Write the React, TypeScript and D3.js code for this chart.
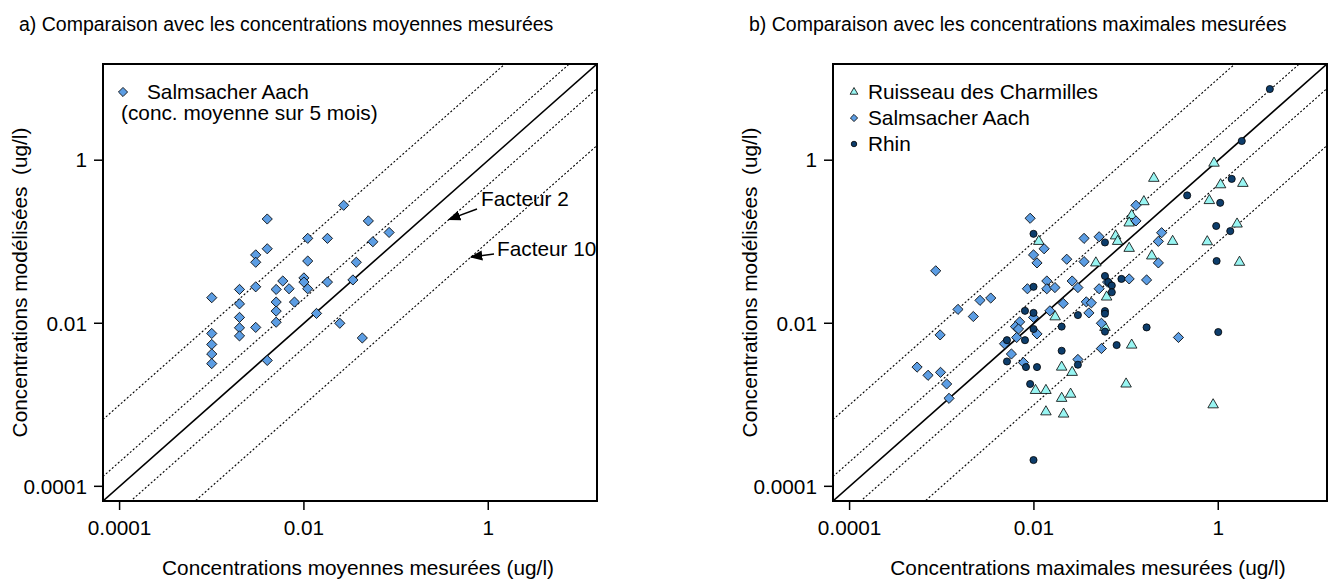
import React from 'react'
import * as d3 from 'd3'

type Pt = [number, number]

const W = 1339
const H = 581
const FONT = '"Liberation Sans", Arial, sans-serif'
const FS = 20.8

// same log range on both axes
const domain: [number, number] = [Math.pow(10, -4.18), Math.pow(10, 1.18)]
const tickValues = [0.0001, 0.01, 1]
const tickLabels = ['0.0001', '0.01', '1']
const factors = [1, 2, 0.5, 10, 0.1]

const titles = [
  'a) Comparaison avec les concentrations moyennes mesurées',
  'b) Comparaison avec les concentrations maximales mesurées',
]
const xLabels = [
  'Concentrations moyennes mesurées (ug/l)',
  'Concentrations maximales mesurées (ug/l)',
]
const yLabel = 'Concentrations modélisées\u00a0\u00a0(ug/l)'

// panel a: Salmsacher Aach, mean over 5 months
const salmsacherMoy: Pt[] = [
  [0.027, 0.28], [0.004, 0.19], [0.05, 0.18], [0.011, 0.11], [0.018, 0.11],
  [0.084, 0.13], [0.056, 0.1], [0.004, 0.082], [0.003, 0.069], [0.003, 0.056],
  [0.011, 0.058], [0.037, 0.056], [0.0059, 0.033], [0.01, 0.036], [0.01, 0.032],
  [0.018, 0.032], [0.034, 0.034], [0.002, 0.026], [0.003, 0.028], [0.005, 0.026],
  [0.0069, 0.0265], [0.011, 0.0265], [0.001, 0.0206], [0.002, 0.0173], [0.005, 0.0182],
  [0.0079, 0.0182], [0.005, 0.0141], [0.0137, 0.0132], [0.002, 0.0118], [0.005, 0.0103],
  [0.0245, 0.01], [0.002, 0.0088], [0.003, 0.0089], [0.001, 0.0075], [0.002, 0.007],
  [0.043, 0.0066], [0.001, 0.0055], [0.001, 0.0042], [0.001, 0.0032], [0.004, 0.0035],
]

// panel b: maxima
const ruisseauMax: Pt[] = [
  [0.0113, 0.101], [0.2, 0.6], [0.156, 0.31], [0.115, 0.21], [0.108, 0.17],
  [0.077, 0.118], [0.081, 0.101], [0.108, 0.083], [0.32, 0.101], [0.19, 0.067],
  [0.047, 0.055], [0.0615, 0.021], [0.017, 0.012], [0.059, 0.0089], [0.115, 0.0054],
  [0.02, 0.0029], [0.026, 0.0025], [0.1, 0.0018], [0.0104, 0.0015], [0.0135, 0.0015],
  [0.025, 0.00135], [0.02, 0.0012], [0.0135, 0.00082], [0.021, 0.00077],
  [0.9, 0.92], [1.06, 0.5], [1.85, 0.52], [0.8, 0.32], [1.6, 0.165],
  [0.76, 0.1], [1.7, 0.056], [0.88, 0.001],
]
const salmsacherMax: Pt[] = [
  [0.0091, 0.194], [0.0099, 0.069], [0.0108, 0.055], [0.0129, 0.082], [0.00086, 0.044],
  [0.128, 0.28], [0.128, 0.18], [0.035, 0.11], [0.051, 0.115], [0.243, 0.129],
  [0.224, 0.101], [0.224, 0.055], [0.0227, 0.061], [0.035, 0.057], [0.108, 0.035],
  [0.167, 0.034], [0.051, 0.0265], [0.0138, 0.033], [0.026, 0.033], [0.0085, 0.0265],
  [0.0138, 0.0265], [0.0169, 0.0274], [0.03, 0.0274], [0.0208, 0.0175], [0.037, 0.0183],
  [0.042, 0.0178], [0.0395, 0.0134], [0.0026, 0.0191], [0.0034, 0.0204], [0.0015, 0.0148],
  [0.0022, 0.0121], [0.0149, 0.0142], [0.0099, 0.0118], [0.007, 0.0104], [0.0063, 0.0091],
  [0.0068, 0.0085], [0.0108, 0.0074], [0.054, 0.01], [0.37, 0.0067], [0.0065, 0.0067],
  [0.0048, 0.0056], [0.054, 0.0049], [0.0057, 0.0042], [0.03, 0.0036], [0.0077, 0.0033],
  [0.00096, 0.0072], [0.00054, 0.0029], [0.00071, 0.0023], [0.00097, 0.0025], [0.00113, 0.0018],
  [0.0012, 0.0012], [0.063, 0.032],
]
const rhinMax: Pt[] = [
  [0.0099, 0.125], [0.46, 0.37], [0.059, 0.098], [0.059, 0.038], [0.089, 0.035],
  [0.064, 0.032], [0.07, 0.029], [0.07, 0.024], [0.0099, 0.028], [0.03, 0.0126],
  [0.059, 0.0141], [0.059, 0.0131], [0.008, 0.0142], [0.0099, 0.0134], [0.0099, 0.0085],
  [0.02, 0.0091], [0.059, 0.0079], [0.167, 0.0089], [0.0051, 0.0062], [0.008, 0.0062],
  [0.079, 0.0054], [0.02, 0.0046], [0.03, 0.0031], [0.0051, 0.0034], [0.0082, 0.0029],
  [0.0108, 0.0029], [0.0091, 0.0018], [0.0099, 0.00021], [3.63, 7.46],
  [1.8, 1.72], [1.4, 0.59], [1.05, 0.3], [0.95, 0.156], [1.35, 0.135],
  [0.96, 0.058], [1.0, 0.0078],
]

const colours = {
  ruisseau: '#98f5f2',
  salmsacher: '#5c9de3',
  rhin: '#0d3d6b',
}

const shapes = {
  diamond: { type: d3.symbolSquare, rotate: 45 },
  triangle: { type: d3.symbolTriangle, rotate: 0 },
  circle: { type: d3.symbolCircle, rotate: 0 },
}
type ShapeKey = keyof typeof shapes

const symbolPath = (shape: ShapeKey, size: number) =>
  d3.symbol().type(shapes[shape].type).size(size)() as string

interface Series { key: string, data: Pt[], shape: ShapeKey, fill: string, size: number }
interface LegendItem { label: string, shape: ShapeKey, fill: string, size: number }

function Marker ({ x, y, shape, fill, size }: { x: number, y: number, shape: ShapeKey, fill: string, size: number }) {
  return (
    <path
      d={symbolPath(shape, size)}
      transform={`translate(${x},${y}) rotate(${shapes[shape].rotate})`}
      fill={fill}
      stroke="#000"
      strokeWidth={0.8}
    />
  )
}

function Panel ({ idx, left, series, legend, legendNote, annotate }: {
  idx: number, left: number, series: Series[], legend: LegendItem[], legendNote?: string, annotate?: boolean
}) {
  const box = { left, top: 64, width: 494, height: 437 }
  const right = box.left + box.width
  const bottom = box.top + box.height
  const xs = d3.scaleLog().domain(domain).range([box.left, right])
  const ys = d3.scaleLog().domain(domain).range([bottom, box.top])
  const line = d3.line()
  const clipId = `clip-${idx}`
  const arrowId = `arrow-${idx}`

  // point on the reference line y = f * x
  const ref = (f: number, lx: number): Pt => [xs(lx), ys(lx * f)]

  return (
    <g fontFamily={FONT} fill="#000">
      <defs>
        <clipPath id={clipId}>
          <rect x={box.left} y={box.top} width={box.width} height={box.height} />
        </clipPath>
        <marker id={arrowId} viewBox="0 0 10 10" refX="9" refY="5" markerWidth="9" markerHeight="9" orient="auto">
          <path d="M0,1 L10,5 L0,9 Z" fill="#000" />
        </marker>
      </defs>

      <text x={box.left - 84} y={31} fontSize={19.5}>{titles[idx]}</text>

      <g clipPath={`url(#${clipId})`}>
        {factors.map(f => (
          <path
            key={f}
            d={line([ref(f, domain[0] / 20), ref(f, domain[1])]) as string}
            fill="none"
            stroke="#000"
            strokeWidth={f === 1 ? 1.6 : 1.1}
            strokeDasharray={f === 1 ? undefined : '2,2'}
          />
        ))}
      </g>

      {series.map(s => (
        <g key={s.key}>
          {s.data.map((d, i) => (
            <Marker key={i} x={xs(d[0])} y={ys(d[1])} shape={s.shape} fill={s.fill} size={s.size} />
          ))}
        </g>
      ))}

      <rect x={box.left} y={box.top} width={box.width} height={box.height} fill="none" stroke="#000" strokeWidth={2} />

      {tickValues.map((t, i) => (
        <g key={`x${t}`}>
          <line x1={xs(t)} x2={xs(t)} y1={bottom} y2={bottom + 9} stroke="#000" strokeWidth={1.5} />
          <text x={xs(t)} y={535} fontSize={FS} textAnchor="middle">{tickLabels[i]}</text>
        </g>
      ))}
      {tickValues.map((t, i) => (
        <g key={`y${t}`}>
          <line x1={box.left - 9} x2={box.left} y1={ys(t)} y2={ys(t)} stroke="#000" strokeWidth={1.5} />
          <text x={box.left - 16} y={ys(t)} dy="0.35em" fontSize={FS} textAnchor="end">{tickLabels[i]}</text>
        </g>
      ))}

      <text x={box.left + 255} y={575} fontSize={FS} textAnchor="middle">{xLabels[idx]}</text>
      <text
        transform={`translate(${box.left - 76},${(box.top + bottom) / 2}) rotate(-90)`}
        fontSize={FS}
        textAnchor="middle"
      >
        {yLabel}
      </text>

      {legend.map((l, i) => {
        const big = legendNote !== undefined
        const mx = box.left + (big ? 20 : 21)
        const my = box.top + 28 + i * 26
        return (
          <g key={l.label}>
            <Marker x={mx} y={my} shape={l.shape} fill={l.fill} size={l.size} />
            <text x={box.left + (big ? 44 : 35)} y={my} dy="0.35em" fontSize={FS}>{l.label}</text>
          </g>
        )
      })}
      {legendNote && (
        <text x={box.left + 18} y={box.top + 56} fontSize={FS}>{legendNote}</text>
      )}

      {annotate && (
        <g>
          <text x={481} y={206} fontSize={FS}>Facteur 2</text>
          <path
            d={line([[477, 209], ref(0.5, xs.invert(449))]) as string}
            stroke="#000" strokeWidth={1.4} markerEnd={`url(#${arrowId})`}
          />
          <text x={497} y={256} fontSize={FS}>Facteur 10</text>
          <path
            d={line([[494, 254], ref(0.1, xs.invert(471))]) as string}
            stroke="#000" strokeWidth={1.4} markerEnd={`url(#${arrowId})`}
          />
        </g>
      )}
    </g>
  )
}

export default function App () {
  const seriesA: Series[] = [
    { key: 'salm', data: salmsacherMoy, shape: 'diamond', fill: colours.salmsacher, size: 52 },
  ]
  const seriesB: Series[] = [
    { key: 'ruis', data: ruisseauMax, shape: 'triangle', fill: colours.ruisseau, size: 48 },
    { key: 'salm', data: salmsacherMax, shape: 'diamond', fill: colours.salmsacher, size: 52 },
    { key: 'rhin', data: rhinMax, shape: 'circle', fill: colours.rhin, size: 40 },
  ]
  const legendA: LegendItem[] = [
    { label: 'Salmsacher Aach', shape: 'diamond', fill: colours.salmsacher, size: 42 },
  ]
  const legendB: LegendItem[] = [
    { label: 'Ruisseau des Charmilles', shape: 'triangle', fill: colours.ruisseau, size: 26 },
    { label: 'Salmsacher Aach', shape: 'diamond', fill: colours.salmsacher, size: 26 },
    { label: 'Rhin', shape: 'circle', fill: colours.rhin, size: 24 },
  ]
  return (
    <div style={{ position: 'absolute', left: 0, top: 0, background: '#fff' }}>
      <svg width={W} height={H} viewBox={`0 0 ${W} ${H}`} style={{ display: 'block' }}>
        <rect width={W} height={H} fill="#fff" />
        <Panel idx={0} left={103} series={seriesA} legend={legendA} legendNote="(conc. moyenne sur 5 mois)" annotate />
        <Panel idx={1} left={833} series={seriesB} legend={legendB} />
      </svg>
    </div>
  )
}
